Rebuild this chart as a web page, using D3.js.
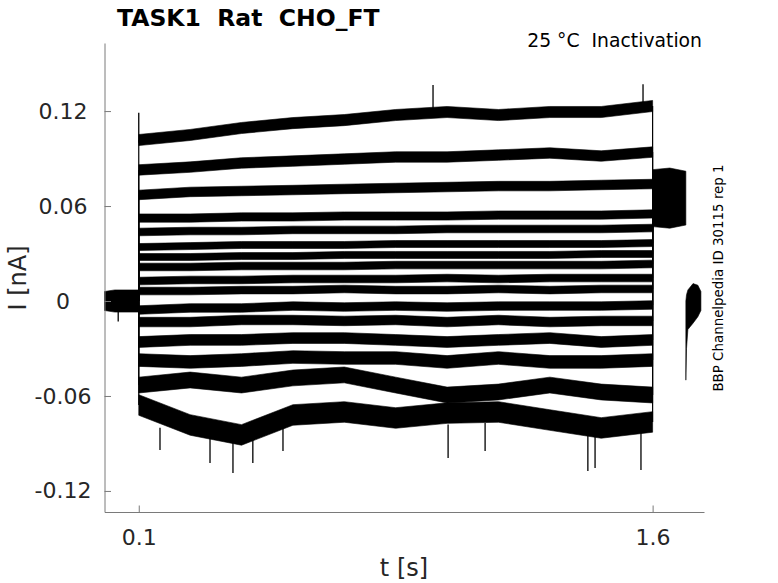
<!DOCTYPE html>
<html>
<head>
  <meta charset="utf-8">
  <title>TASK1 Rat CHO_FT</title>
  <script src="https://d3js.org/d3.v7.min.js"></script>
  <style>
    body { margin: 0; background: #fff; }
    text { font-family: "DejaVu Sans", sans-serif; white-space: pre; }
  </style>
</head>
<body>
<script>
// step levels (nA), one row per sweep, at the times in stepTimes
var stepTimes = [0.1, 0.25, 0.4, 0.55, 0.7, 0.85, 1.0, 1.15, 1.3, 1.45, 1.6];
var sweeps = [
  [0.1017, 0.1049, 0.1093, 0.1124, 0.1143, 0.1175, 0.1194, 0.1175, 0.1194, 0.1194, 0.1232],
  [0.0828, 0.0846, 0.0872, 0.0884, 0.0897, 0.0910, 0.0910, 0.0922, 0.0935, 0.0916, 0.0941],
  [0.0670, 0.0689, 0.0695, 0.0701, 0.0708, 0.0714, 0.0720, 0.0726, 0.0726, 0.0733, 0.0739],
  [0.0524, 0.0524, 0.0531, 0.0531, 0.0537, 0.0537, 0.0537, 0.0543, 0.0543, 0.0543, 0.0550],
  [0.0436, 0.0442, 0.0442, 0.0449, 0.0449, 0.0449, 0.0455, 0.0455, 0.0455, 0.0455, 0.0461],
  [0.0341, 0.0347, 0.0354, 0.0354, 0.0354, 0.0360, 0.0360, 0.0360, 0.0360, 0.0360, 0.0366],
  [0.0278, 0.0278, 0.0284, 0.0284, 0.0291, 0.0291, 0.0291, 0.0291, 0.0291, 0.0297, 0.0297],
  [0.0215, 0.0215, 0.0221, 0.0221, 0.0221, 0.0227, 0.0227, 0.0227, 0.0227, 0.0227, 0.0234],
  [0.0126, 0.0133, 0.0133, 0.0139, 0.0139, 0.0139, 0.0145, 0.0139, 0.0145, 0.0145, 0.0145],
  [0.0063, 0.0063, 0.0069, 0.0069, 0.0076, 0.0069, 0.0069, 0.0076, 0.0069, 0.0076, 0.0076],
  [-0.0057, -0.0044, -0.0044, -0.0032, -0.0038, -0.0032, -0.0038, -0.0032, -0.0032, -0.0032, -0.0025],
  [-0.0133, -0.0133, -0.0120, -0.0120, -0.0126, -0.0120, -0.0133, -0.0120, -0.0133, -0.0126, -0.0126],
  [-0.0259, -0.0246, -0.0246, -0.0234, -0.0234, -0.0246, -0.0259, -0.0246, -0.0234, -0.0259, -0.0246],
  [-0.0373, -0.0385, -0.0373, -0.0354, -0.0360, -0.0360, -0.0385, -0.0360, -0.0385, -0.0385, -0.0373],
  [-0.0531, -0.0499, -0.0531, -0.0486, -0.0467, -0.0531, -0.0594, -0.0575, -0.0531, -0.0575, -0.0594],
  [-0.0657, -0.0783, -0.0846, -0.0720, -0.0701, -0.0739, -0.0708, -0.0701, -0.0752, -0.0802, -0.0764]
];
// noise half-width of each sweep (nA)
var noise = [0.0035, 0.0033, 0.003, 0.0026, 0.0024, 0.0022, 0.0022, 0.0024, 0.0024, 0.0024, 0.0027, 0.003, 0.0034, 0.004, 0.005, 0.0065];

// holding segment before the step, and the test pulse after it: [t, low, high]
var holding = [[0.0, -0.006, 0.006], [0.03, -0.007, 0.007], [0.1, -0.007, 0.007]];
var testPulse = [[1.6, 0.047, 0.083], [1.65, 0.046, 0.084], [1.697, 0.048, 0.082]];
var tail = [[1.697, -0.050, 0.000], [1.699, -0.030, 0.004], [1.703, -0.018, 0.007],
            [1.718, -0.014, 0.011], [1.732, -0.010, 0.010], [1.741, -0.006, 0.006]];
var testLevel = 0.065;

// single noise spikes and transients: [t, from, to]
var spikes = [
  [0.1, 0.100, 0.119], [0.04, -0.004, -0.013], [0.959, 0.119, 0.1364], [1.572, 0.122, 0.137],
  [0.162, -0.080, -0.0941], [0.308, -0.085, -0.1023], [0.375, -0.086, -0.1087],
  [0.433, -0.083, -0.1023], [0.521, -0.078, -0.0948], [1.003, -0.078, -0.0992],
  [1.111, -0.077, -0.0948], [1.411, -0.082, -0.1074], [1.432, -0.082, -0.1055],
  [1.566, -0.080, -0.1068]
];

var yTicks = [-0.12, -0.06, 0, 0.06, 0.12];
var yTickLabels = ["-0.12", "-0.06", "0", "0.06", "0.12"];
var xTicks = [0.1, 1.6];
var xTickLabels = ["0.1", "1.6"];

var width = 778, height = 583;
var svg = d3.select("body").append("svg").attr("width", width).attr("height", height);

var x = d3.scaleLinear().domain([0, 1.75]).range([104.5, 704]);
var y = d3.scaleLinear().domain([-0.1333, 0.163]).range([512, 43]);

var band = d3.area()
  .x(function(d) { return x(d[0]); })
  .y0(function(d) { return y(d[1]); })
  .y1(function(d) { return y(d[2]); });
var line = d3.line()
  .x(function(d) { return x(d[0]); })
  .y(function(d) { return y(d[1]); });

var traces = svg.append("g");

// step lines at 0.1 s and 1.6 s
sweeps.forEach(function(s) {
  traces.append("path")
    .attr("d", line([[0.1, 0], [0.1, s[0]]]))
    .attr("stroke", "#000").attr("stroke-width", 1.2).attr("fill", "none");
  traces.append("path")
    .attr("d", line([[1.6, s[s.length - 1]], [1.6, testLevel]]))
    .attr("stroke", "#000").attr("stroke-width", 1.2).attr("fill", "none");
});

// sweeps as noise bands
sweeps.forEach(function(s, i) {
  var pts = s.map(function(v, j) { return [stepTimes[j], v - noise[i], v + noise[i]]; });
  traces.append("path")
    .attr("d", band(pts))
    .attr("fill", "#000")
    .attr("stroke", "#000").attr("stroke-width", 0.6);
});

[holding, testPulse, tail].forEach(function(seg) {
  traces.append("path")
    .attr("d", band(seg))
    .attr("fill", "#000")
    .attr("stroke", "#000").attr("stroke-width", 0.6);
});

traces.selectAll(".spike")
  .data(spikes)
  .enter().append("path")
  .attr("d", function(d) { return line([[d[0], d[1]], [d[0], d[2]]]); })
  .attr("stroke", "#000").attr("stroke-width", 1.3).attr("fill", "none");

// axes, MATLAB style with inward ticks
var axisColor = "#7a7a7a", textColor = "#262626";

var yAxis = svg.append("g")
  .attr("transform", "translate(" + x(0) + ",0)")
  .call(d3.axisLeft(y).tickValues(yTicks)
    .tickFormat(function(d, i) { return yTickLabels[i]; })
    .tickSizeInner(-6.5).tickSizeOuter(0));
yAxis.select(".domain").attr("stroke", axisColor);
yAxis.selectAll(".tick line").attr("stroke", axisColor);
yAxis.selectAll(".tick text")
  .attr("x", -41.5).attr("text-anchor", "middle")
  .attr("fill", textColor).style("font-size", "22px");

var xAxis = svg.append("g")
  .attr("transform", "translate(0," + y.range()[0] + ")")
  .call(d3.axisBottom(x).tickValues(xTicks)
    .tickFormat(function(d, i) { return xTickLabels[i]; })
    .tickSizeInner(-6.5).tickSizeOuter(0));
xAxis.select(".domain").attr("stroke", axisColor);
xAxis.selectAll(".tick line").attr("stroke", axisColor);
xAxis.selectAll(".tick text")
  .attr("y", 17)
  .attr("fill", textColor).style("font-size", "22px");

// labels
svg.append("text")
  .attr("x", 404).attr("y", 576)
  .attr("text-anchor", "middle")
  .attr("fill", textColor).style("font-size", "24px")
  .text("t [s]");

svg.append("text")
  .attr("transform", "translate(26,278) rotate(-90)")
  .attr("text-anchor", "middle")
  .attr("fill", textColor).style("font-size", "24px")
  .text("I [nA]");

svg.append("text")
  .attr("x", 117).attr("y", 26)
  .attr("fill", "#000").style("font-size", "23.5px").style("font-weight", "bold")
  .text("TASK1  Rat  CHO_FT");

svg.append("text")
  .attr("x", 702).attr("y", 47)
  .attr("text-anchor", "end")
  .attr("fill", "#000").style("font-size", "18.8px")
  .text("25 °C  Inactivation");

svg.append("text")
  .attr("transform", "translate(723,278) rotate(-90)")
  .attr("text-anchor", "middle")
  .attr("fill", "#000").style("font-size", "13.4px")
  .text("BBP Channelpedia ID 30115 rep 1");
</script>
</body>
</html>
